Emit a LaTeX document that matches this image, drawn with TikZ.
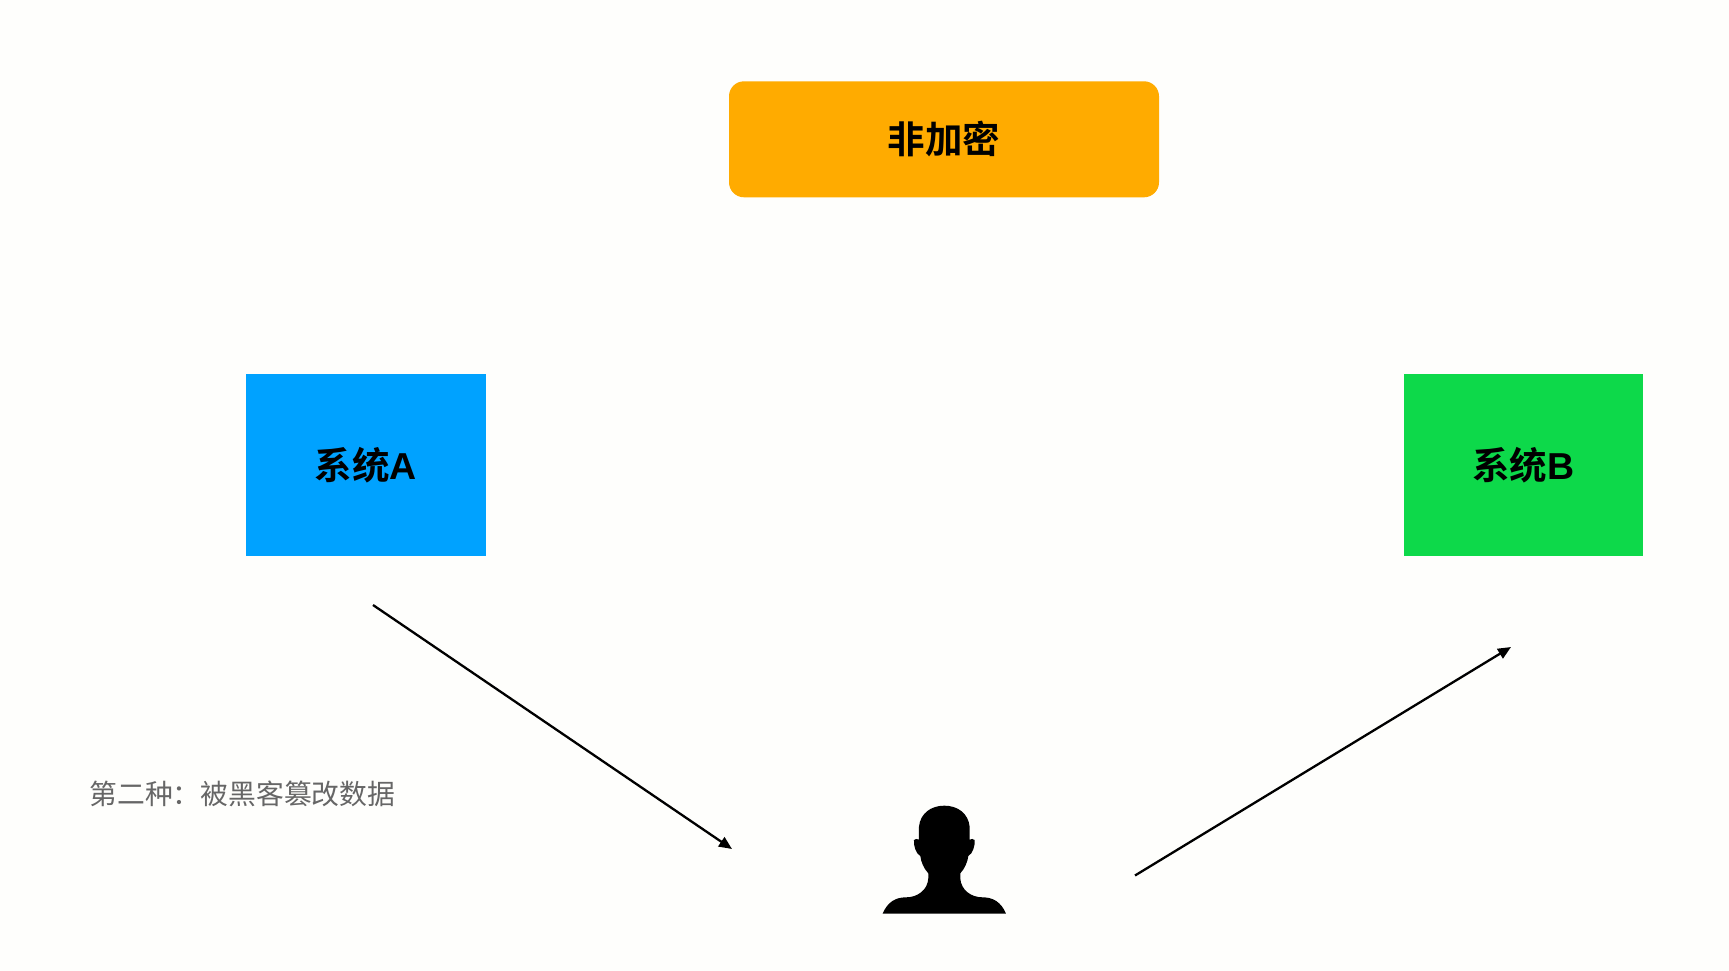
\documentclass[tikz,border=0pt]{standalone}
\usepackage{fontspec}
\newfontfamily\cjk{Noto Sans CJK SC}
\newfontfamily\cjkb{Noto Sans CJK SC Bold}
\newfontfamily\latb{Liberation Sans Bold}
\usetikzlibrary{arrows.meta}
\definecolor{bgc}{HTML}{FEFEFC}
\definecolor{orangec}{HTML}{FFAB00}
\definecolor{bluec}{HTML}{00A2FF}
\definecolor{greenc}{HTML}{0DD94A}
\definecolor{grayc}{HTML}{666666}
\tikzset{
  box/.style={inner sep=0pt,outer sep=0pt,anchor=north west,font=\fontsize{37.5}{37.5}\selectfont\cjkb,text=black},
  arrowline/.style={draw=black,line width=2.3pt,-{Triangle[length=13pt,width=11pt]}},
}
\begin{document}
\begin{tikzpicture}[x=1pt,y=-1pt]
\fill[bgc] (0,0) rectangle (1729,971);
\useasboundingbox (0,0) rectangle (1729,971);
\node[box,fill=orangec,rounded corners=15pt,minimum width=430pt,minimum height=116pt,align=center] (enc) at (729,81.3) {非加密};
\node[box,fill=bluec,minimum width=240pt,minimum height=182pt,align=center] (sysa) at (246,374) {系统{\latb A}};
\node[box,fill=greenc,minimum width=239.5pt,minimum height=182pt,align=center] (sysb) at (1403.5,374) {系统{\latb B}};
\node[anchor=center,inner sep=0pt,text=grayc,font=\fontsize{27.8}{28}\selectfont\cjk] (note) at (242.3,794) {第二种：被黑客篡改数据};
\coordinate (a1) at (373,605);
\coordinate (a2) at (732,849);
\coordinate (b1) at (1135,875.5);
\coordinate (b2) at (1511,647);
\draw[arrowline] (a1) -- (a2);
\draw[arrowline] (b1) -- (b2);
% person silhouette
\begin{scope}[shift={(944.3,790)},x=0.3333pt,y=-0.3333pt]
\fill[black] (-185,371)
 .. controls (-170,335) and (-145,322) .. (-115,322)
 .. controls (-80,322) and (-50,300) .. (-48,265)
 -- (-48,250)
 .. controls (-62,235) and (-70,215) .. (-72,198)
 .. controls (-85,192) and (-93,165) .. (-91,150)
 .. controls (-88,146) and (-80,146) .. (-76,149)
 -- (-76,110)
 .. controls (-72,70) and (-40,47) .. (0,47)
 .. controls (40,47) and (72,70) .. (76,110)
 -- (76,149)
 .. controls (80,146) and (88,146) .. (91,150)
 .. controls (93,165) and (85,192) .. (72,198)
 .. controls (70,215) and (62,235) .. (48,250)
 -- (48,265)
 .. controls (50,300) and (80,322) .. (115,322)
 .. controls (145,322) and (170,335) .. (185,371)
 -- cycle;
\end{scope}
\end{tikzpicture}
\end{document}
